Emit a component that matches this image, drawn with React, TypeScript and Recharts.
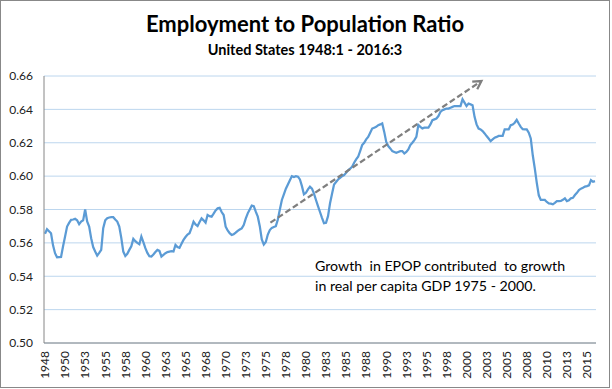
import { CartesianGrid, Line, LineChart, ReferenceLine, XAxis, YAxis } from "recharts";

// Employment to population ratio, quarterly, 1948:1 - 2016:3.
const epop1940s = [0.5655, 0.5682, 0.567, 0.5658, 0.5585, 0.5538, 0.5514, 0.5515];
const epop1950s = [
  0.5516, 0.558, 0.5638, 0.5698,
  0.572, 0.5738, 0.574, 0.5744,
  0.5735, 0.5712, 0.5728, 0.5735,
  0.58, 0.5728, 0.5698, 0.5628,
  0.5575, 0.5548, 0.5524, 0.554,
  0.5558, 0.5688, 0.5735, 0.5748,
  0.5752, 0.5754, 0.5754, 0.574,
  0.5728, 0.5698, 0.563, 0.5548,
  0.5522, 0.5535, 0.5558, 0.558,
  0.5624, 0.561, 0.56, 0.5592,
];
const epop1960s = [
  0.5638, 0.5605, 0.5568, 0.554,
  0.552, 0.5518, 0.553, 0.5545,
  0.5558, 0.5552, 0.5518, 0.5528,
  0.5538, 0.5545, 0.5548, 0.555,
  0.5548, 0.5588, 0.5575, 0.557,
  0.5595, 0.5618, 0.5635, 0.565,
  0.5658, 0.569, 0.5727, 0.571,
  0.5701, 0.5725, 0.5747, 0.5735,
  0.5721, 0.5767, 0.576, 0.5757,
  0.5775, 0.5795, 0.5807, 0.581,
];
const epop1970s = [
  0.5785, 0.5767, 0.5697, 0.5675,
  0.5658, 0.5648, 0.5652, 0.5661,
  0.5672, 0.568, 0.5687, 0.5707,
  0.5745, 0.5777, 0.58, 0.5823,
  0.582, 0.5787, 0.5757, 0.57,
  0.562, 0.559, 0.5605, 0.565,
  0.5677, 0.569, 0.5695, 0.57,
  0.574, 0.58, 0.5857, 0.589,
  0.5925, 0.595, 0.5975, 0.6,
  0.5995, 0.6, 0.5997, 0.598,
];
const epop1980s = [
  0.594, 0.5891, 0.59, 0.592,
  0.5937, 0.5925, 0.5895, 0.5857,
  0.582, 0.5785, 0.575, 0.5718,
  0.572, 0.576, 0.5837, 0.5895,
  0.595, 0.5965, 0.598, 0.599,
  0.6, 0.6006, 0.602, 0.6035,
  0.6045, 0.6056, 0.608, 0.61,
  0.6116, 0.615, 0.6186, 0.62,
  0.622, 0.6235, 0.626, 0.6285,
  0.629, 0.6295, 0.6305, 0.631,
];
const epop1990s = [
  0.6316, 0.6265, 0.6205, 0.618,
  0.6166, 0.615, 0.6145, 0.614,
  0.6145, 0.615, 0.615, 0.6136,
  0.6145, 0.616, 0.6186, 0.62,
  0.6216, 0.6235, 0.6306, 0.6295,
  0.6286, 0.629, 0.629, 0.629,
  0.631, 0.6335, 0.634, 0.6345,
  0.636, 0.6385, 0.6395, 0.64,
  0.6405, 0.6405, 0.641, 0.6415,
  0.642, 0.642, 0.642, 0.642,
];
const epop2000s = [
  0.646, 0.644, 0.642, 0.6435,
  0.643, 0.6425, 0.6355, 0.631,
  0.6285, 0.628, 0.627, 0.6256,
  0.624, 0.6225, 0.621, 0.622,
  0.623, 0.6235, 0.6241, 0.6241,
  0.6241, 0.628, 0.628, 0.628,
  0.6305, 0.6309, 0.632, 0.6337,
  0.6315, 0.6295, 0.6281, 0.628,
  0.628, 0.626, 0.6226, 0.6125,
  0.6046, 0.596, 0.5885, 0.5857,
];
const epop2010s = [
  0.5857, 0.5857, 0.5845, 0.5837,
  0.5835, 0.5831, 0.584, 0.585,
  0.585, 0.5851, 0.5858, 0.5867,
  0.585, 0.5855, 0.5867, 0.587,
  0.5887, 0.59, 0.5917, 0.5925,
  0.593, 0.5937, 0.594, 0.5945,
  0.5976, 0.5966, 0.597,
];

// one label every 10 quarters, as Excel placed them
const tickLabels = [
  "1948", "1950", "1953", "1955", "1958", "1960", "1963", "1965", "1968", "1970",
  "1973", "1975", "1978", "1980", "1983", "1985", "1988", "1990", "1993", "1995",
  "1998", "2000", "2003", "2005", "2008", "2010", "2013", "2015",
];
const yTicks = [0.5, 0.52, 0.54, 0.56, 0.58, 0.6, 0.62, 0.64, 0.66];

const noteLines = ["Growth  in EPOP contributed  to growth", "in real per capita GDP 1975 - 2000."];

const epop = [...epop1940s, ...epop1950s, ...epop1960s, ...epop1970s, ...epop1980s, ...epop1990s, ...epop2000s, ...epop2010s];
const data = epop.map((v, i) => ({ q: i, v }));

const FONT = "Lato, 'Open Sans', sans-serif";
const W = 608;
const H = 386;

function YearTick({ x, y, payload }: any) {
  const label = tickLabels[Math.round(payload.value / 10)];
  return (
    <text
      x={0}
      y={0}
      transform={`translate(${x},${y}) rotate(-90)`}
      textAnchor="end"
      dy="0.36em"
      fontSize={12}
      fontFamily={FONT}
      fill="#222"
    >
      {label}
    </text>
  );
}

// dashed trend arrow drawn over the segment given to the ReferenceLine
function Arrow(p: any) {
  return (
    <g>
      <defs>
        <marker id="epop-arrow" markerWidth="12" markerHeight="12" refX="9" refY="6" orient="auto" markerUnits="userSpaceOnUse">
          <path d="M1,1.5 L9,6 L1,10.5" fill="none" stroke="#7f7f7f" strokeWidth={2.25} />
        </marker>
      </defs>
      <line
        x1={p.x1}
        y1={p.y1}
        x2={p.x2}
        y2={p.y2}
        stroke="#7f7f7f"
        strokeWidth={2.25}
        strokeDasharray="6 3"
        markerEnd="url(#epop-arrow)"
      />
    </g>
  );
}

export default function App() {
  return (
    <div
      style={{
        position: "absolute",
        left: 0,
        top: 0,
        width: W,
        height: H,
        border: "1px solid #888",
        background: "#fff",
      }}
    >
      <LineChart width={W} height={H} data={data} margin={{ top: 75, right: 13, bottom: 0, left: 0 }}>
        <CartesianGrid vertical={false} stroke="#bcd6ee" />
        <XAxis
          dataKey="q"
          type="number"
          domain={[-0.5, epop.length - 0.5]}
          ticks={tickLabels.map((_, k) => k * 10)}
          interval={0}
          tick={<YearTick />}
          tickLine={false}
          axisLine={{ stroke: "#868686" }}
          height={44}
        />
        <YAxis
          type="number"
          domain={[0.5, 0.66]}
          ticks={yTicks}
          interval={0}
          tickFormatter={(v: number) => v.toFixed(2)}
          tick={{ fontSize: 12, fontFamily: FONT, fill: "#222" }}
          tickLine={false}
          tickMargin={5}
          axisLine={{ stroke: "#868686" }}
          width={43}
        />
        <Line
          type="linear"
          dataKey="v"
          stroke="#5b9bd5"
          strokeWidth={2.25}
          dot={false}
          activeDot={false}
          isAnimationActive={false}
        />
        <ReferenceLine
          segment={[
            { x: 112.3, y: 0.5721 },
            { x: 217.4, y: 0.657 },
          ]}
          ifOverflow="visible"
          shape={<Arrow />}
        />
      </LineChart>
      <svg
        width={W}
        height={H}
        style={{ position: "absolute", left: 0, top: 0, pointerEvents: "none" }}
      >
        <text x={304} y={31} textAnchor="middle" fontFamily={FONT} fontWeight={700} fontSize={22} fill="#000">
          Employment to Population Ratio
        </text>
        <text x={304} y={54} textAnchor="middle" fontFamily={FONT} fontWeight={700} fontSize={14.5} fill="#000">
          United States 1948:1 - 2016:3
        </text>
        {noteLines.map((line, k) => (
          <text
            key={k}
            x={314}
            y={269.5 + k * 20}
            fontFamily={FONT}
            fontSize={14.2}
            fill="#000"
            style={{ whiteSpace: "pre" }}
          >
            {line}
          </text>
        ))}
      </svg>
    </div>
  );
}
